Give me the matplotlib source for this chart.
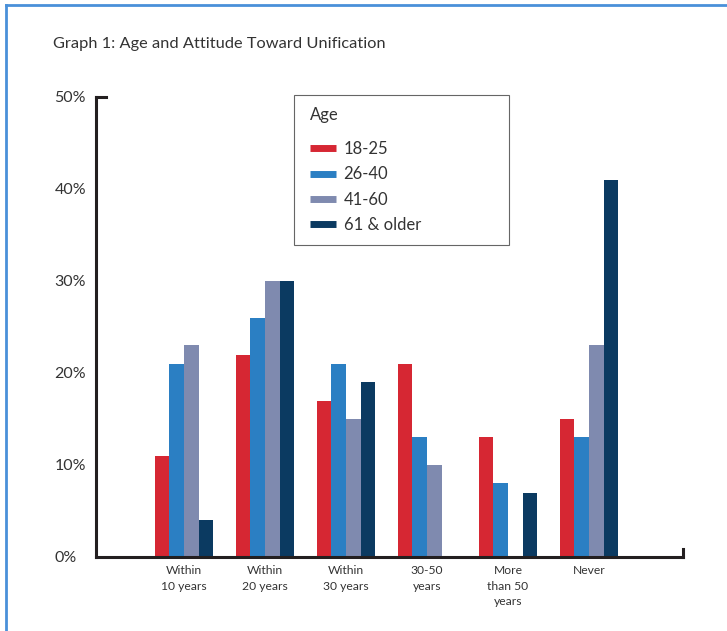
import matplotlib.pyplot as plt
import numpy as np
from matplotlib.lines import Line2D
from matplotlib.patches import Rectangle

plt.rcParams['font.family'] = ['Lato', 'DejaVu Sans']

categories = ['Within\n10 years', 'Within\n20 years', 'Within\n30 years',
              '30-50\nyears', 'More\nthan 50\nyears', 'Never']
age_groups = ['18-25', '26-40', '41-60', '61 & older']
age_18_25 = [11, 22, 17, 21, 13, 15]
age_26_40 = [21, 26, 21, 13, 8, 13]
age_41_60 = [23, 30, 15, 10, 0, 23]
age_61_up = [4, 30, 19, 0, 7, 41]
colors = ['#D62733', '#2B7FC3', '#7F8AAF', '#0B3A61']
txt = '#333333'

fig = plt.figure(figsize=(7.27, 6.31), dpi=100)
ax = fig.add_axes([0.132, 0.1173, 0.8075, 0.729])

x = np.arange(len(categories))
w = 0.18
series = [age_18_25, age_26_40, age_41_60, age_61_up]
for i, (vals, c) in enumerate(zip(series, colors)):
    ax.bar(x + (i - 1.5) * w, vals, width=w, color=c, zorder=2)

ax.set_xlim(-1.086, 6.16)
ax.set_ylim(0, 50)
ax.set_yticks([0, 10, 20, 30, 40, 50])
ax.set_yticklabels(['0%', '10%', '20%', '30%', '40%', '50%'])
ax.set_xticks(x)
ax.set_xticklabels(categories, fontsize=8.7, color=txt, linespacing=1.5)
ax.tick_params(axis='x', length=0, pad=6)
ax.tick_params(axis='y', length=0, pad=30, labelsize=11.5, labelcolor=txt)
for lbl in ax.get_yticklabels():
    lbl.set_horizontalalignment('left')

for s in ['top', 'right']:
    ax.spines[s].set_visible(False)
for s in ['left', 'bottom']:
    ax.spines[s].set_linewidth(2.2)
    ax.spines[s].set_color('#231F20')
    ax.spines[s].set_zorder(3)

# small end stubs on the axes
ax.plot([0, 0.017], [1, 1], transform=ax.transAxes, color='#231F20', lw=2.2,
        clip_on=False, solid_capstyle='projecting')
ax.plot([1, 1], [0, 0.018], transform=ax.transAxes, color='#231F20', lw=2.2,
        clip_on=False, solid_capstyle='projecting')

# legend (frame drawn separately, it is wider than the entries)
handles = [Line2D([], [], color=c, lw=5, solid_capstyle='butt') for c in colors]
leg = ax.legend(handles, age_groups, title='Age', loc='upper left',
                bbox_to_anchor=(0.365, 0.978), fontsize=12, title_fontsize=12,
                frameon=False, borderpad=0, borderaxespad=0,
                handlelength=1.55, handletextpad=0.45,
                labelspacing=0.56, alignment='left')
for t in leg.get_texts():
    t.set_color(txt)
leg.get_title().set_color(txt)
leg._legend_box.sep = 13
ax.add_patch(Rectangle((0.337, 0.678), 0.3666, 0.326, transform=ax.transAxes,
                       fill=False, edgecolor='#666666', lw=0.8, clip_on=False))

fig.text(0.073, 0.93, 'Graph 1: Age and Attitude Toward Unification',
         fontsize=11.8, color=txt, va='center')

# blue frame lines (top and left)
fig.add_artist(Line2D([0.008, 1], [0.992, 0.992], color='#4A90D9', lw=2,
                      transform=fig.transFigure))
fig.add_artist(Line2D([0.008, 0.008], [0, 0.992], color='#4A90D9', lw=2,
                      transform=fig.transFigure))

plt.savefig('out.png', dpi=100)
